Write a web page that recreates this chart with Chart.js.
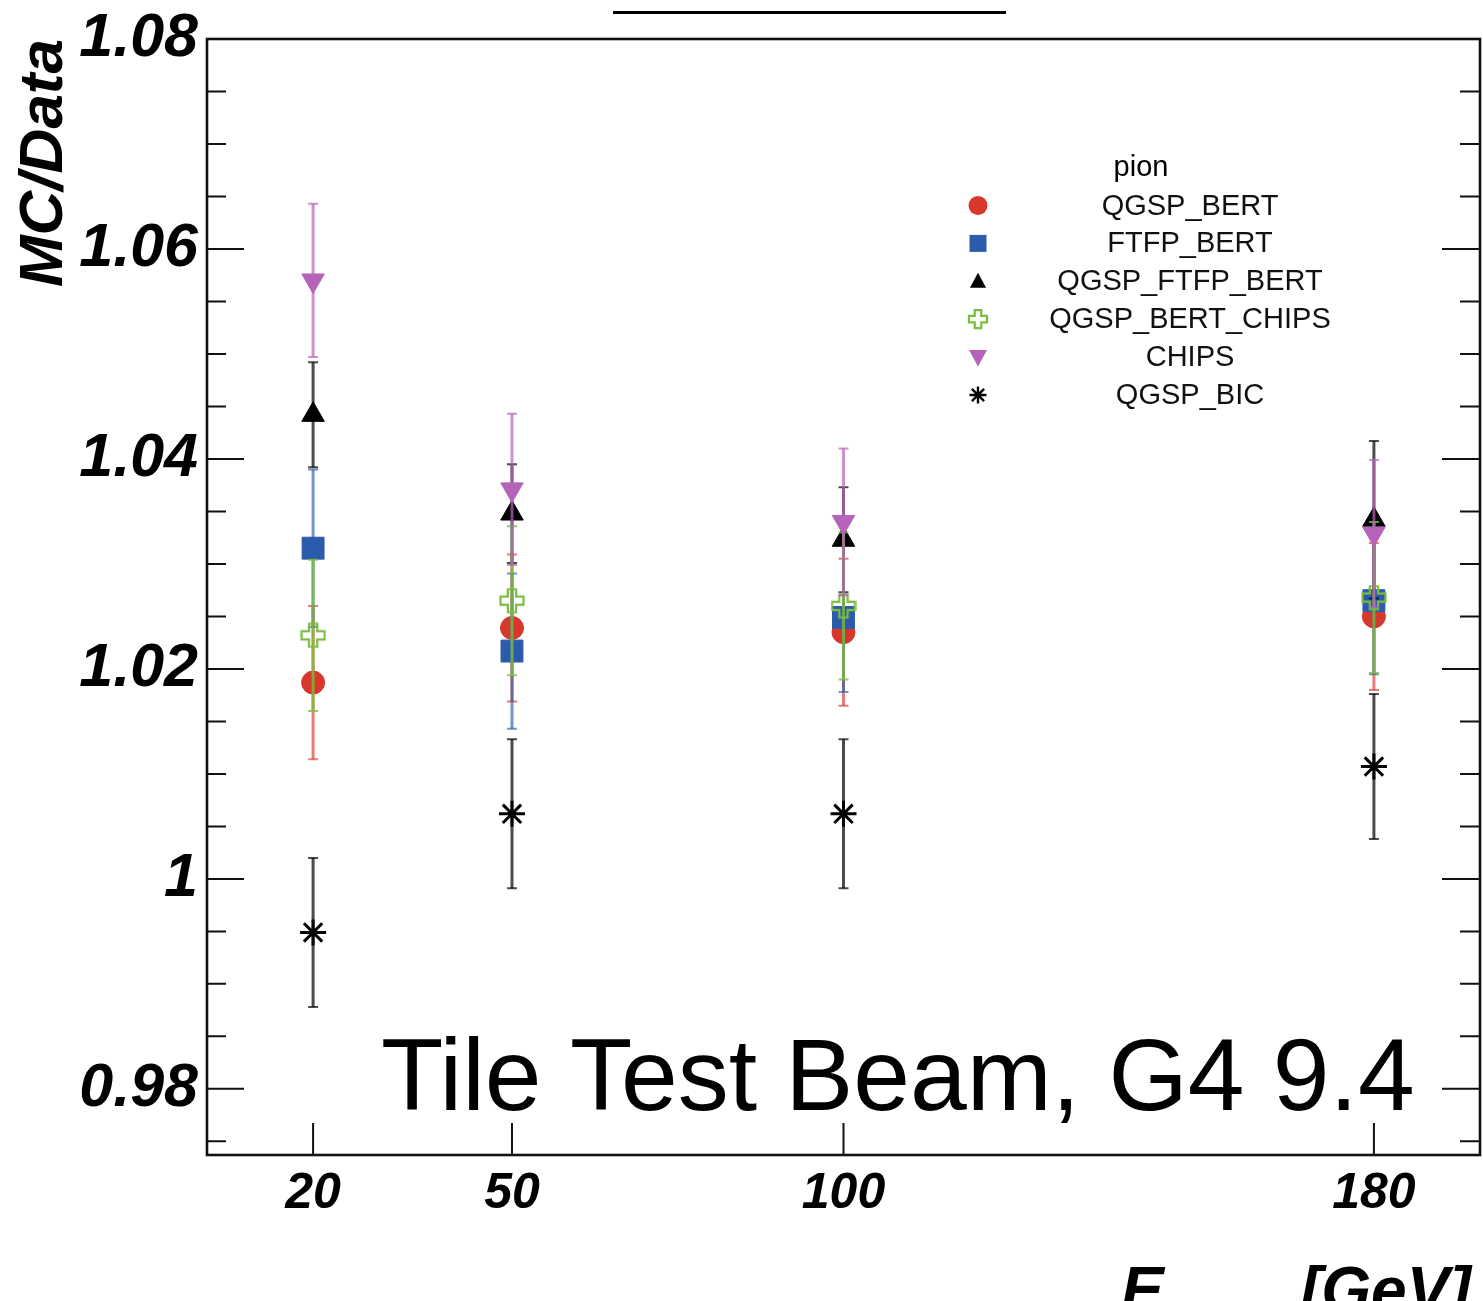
<!DOCTYPE html>
<html>
<head>
<meta charset="utf-8">
<script src="https://cdn.jsdelivr.net/npm/chart.js@4.4.1/dist/chart.umd.min.js"></script>
<style>
  html, body { margin: 0; padding: 0; background: #fff; }
  canvas { display: block; }
</style>
</head>
<body>
<canvas id="chart" width="1483" height="1301"></canvas>
<script>
// beam energies in GeV
const energies = [20, 50, 100, 180];
const xTicks = [20, 50, 100, 180];
const yMajorTicks = [0.98, 1, 1.02, 1.04, 1.06, 1.08];
const yMinorTicks = [0.975, 0.985, 0.99, 0.995, 1.005, 1.01, 1.015, 1.025, 1.03, 1.035,
                     1.045, 1.05, 1.055, 1.065, 1.07, 1.075];

const physicsLists = ['QGSP_BERT', 'FTFP_BERT', 'QGSP_FTFP_BERT', 'QGSP_BERT_CHIPS', 'CHIPS', 'QGSP_BIC'];

// MC/Data ratio and its error, one value per energy
const qgspBert        = [1.0187, 1.0239, 1.0235, 1.0250];
const qgspBertErr     = [0.0073, 0.0070, 0.0070, 0.0070];
const ftfpBert        = [1.0315, 1.0217, 1.0249, 1.0265];
const ftfpBertErr     = [0.0075, 0.0074, 0.0071, 0.0070];
const qgspFtfpBert    = [1.0442, 1.0348, 1.0323, 1.0342];
const qgspFtfpBertErr = [0.0050, 0.0047, 0.0050, 0.0075];
const qgspBertChips   = [1.0232, 1.0265, 1.0260, 1.0268];
const qgspBertChipsErr= [0.0072, 0.0071, 0.0070, 0.0072];
const chips           = [1.0570, 1.0371, 1.0340, 1.0329];
const chipsErr        = [0.0073, 0.0072, 0.0070, 0.0070];
const qgspBic         = [0.9949, 1.0062, 1.0062, 1.0107];
const qgspBicErr      = [0.0071, 0.0071, 0.0071, 0.0069];

const seriesValues = [qgspBert, ftfpBert, qgspFtfpBert, qgspBertChips, chips, qgspBic];
const seriesErrors = [qgspBertErr, ftfpBertErr, qgspFtfpBertErr, qgspBertChipsErr, chipsErr, qgspBicErr];

const seriesColors = ['#d8382c', '#2d5bab', '#000000', '#7bbd40', '#b564b9', '#000000'];
const errorColors  = ['rgba(216,56,44,0.65)', 'rgba(45,91,171,0.65)', 'rgba(0,0,0,0.7)',
                      'rgba(123,189,64,0.8)', 'rgba(181,100,185,0.7)', 'rgba(0,0,0,0.7)'];
const markerShapes = ['circle', 'rect', 'triangle', 'cross', 'triangleDown', 'star'];

const FONT = '"Liberation Sans", Arial, Helvetica, sans-serif';

// draws ROOT-like markers (used for the legend and the open cross)
function drawMarker(ctx, shape, x, y, r, color) {
    ctx.save();
    ctx.fillStyle = color;
    ctx.strokeStyle = color;
    ctx.beginPath();
    if (shape === 'circle') {
        ctx.arc(x, y, r, 0, Math.PI * 2);
        ctx.fill();
    } else if (shape === 'rect') {
        ctx.fillRect(x - r, y - r, 2 * r, 2 * r);
    } else if (shape === 'triangle' || shape === 'triangleDown') {
        const s = shape === 'triangle' ? 1 : -1;
        ctx.moveTo(x, y - s * r);
        ctx.lineTo(x + r * 0.95, y + s * r * 0.75);
        ctx.lineTo(x - r * 0.95, y + s * r * 0.75);
        ctx.closePath();
        ctx.fill();
    } else if (shape === 'cross') {
        const w = r * 0.36;
        ctx.lineWidth = 2.2;
        ctx.moveTo(x - w, y - r); ctx.lineTo(x + w, y - r); ctx.lineTo(x + w, y - w);
        ctx.lineTo(x + r, y - w); ctx.lineTo(x + r, y + w); ctx.lineTo(x + w, y + w);
        ctx.lineTo(x + w, y + r); ctx.lineTo(x - w, y + r); ctx.lineTo(x - w, y + w);
        ctx.lineTo(x - r, y + w); ctx.lineTo(x - r, y - w); ctx.lineTo(x - w, y - w);
        ctx.closePath();
        ctx.stroke();
    } else if (shape === 'star') {
        const d = r * 0.72;
        ctx.lineWidth = 2.4;
        ctx.moveTo(x - r, y); ctx.lineTo(x + r, y);
        ctx.moveTo(x, y - r); ctx.lineTo(x, y + r);
        ctx.moveTo(x - d, y - d); ctx.lineTo(x + d, y + d);
        ctx.moveTo(x - d, y + d); ctx.lineTo(x + d, y - d);
        ctx.stroke();
    }
    ctx.restore();
}

function crossCanvas(size, color) {
    const c = document.createElement('canvas');
    c.width = size; c.height = size;
    drawMarker(c.getContext('2d'), 'cross', size / 2, size / 2, size / 2 - 1.5, color);
    return c;
}

function pointOptions(shape, color) {
    switch (shape) {
        case 'circle': return { pointStyle: 'circle', pointRadius: 11.5 };
        case 'rect': return { pointStyle: 'rect', pointRadius: 15.5 };
        case 'triangle': return { pointStyle: 'triangle', pointRadius: 13 };
        case 'triangleDown': return { pointStyle: 'triangle', pointRadius: 13, pointRotation: 180 };
        case 'star': return { pointStyle: 'star', pointRadius: 13, pointBorderWidth: 3 };
        case 'cross': return { pointStyle: crossCanvas(26, color), pointRadius: 13 };
    }
}

const datasets = physicsLists.map((name, i) => Object.assign({
    label: name,
    data: energies.map((e, j) => ({ x: e, y: seriesValues[i][j] })),
    errors: seriesErrors[i],
    errorColor: errorColors[i],
    marker: markerShapes[i],
    backgroundColor: seriesColors[i],
    borderColor: seriesColors[i],
    pointBorderWidth: 1,
    showLine: false,
    order: physicsLists.length - i
}, pointOptions(markerShapes[i], seriesColors[i])));

// vertical error bars, drawn just before each dataset's markers
const errorBarPlugin = {
    id: 'errorBars',
    beforeDatasetDraw(chart, args) {
        const ds = chart.data.datasets[args.index];
        const { ctx, scales: { x, y } } = chart;
        ctx.save();
        ctx.strokeStyle = ds.errorColor;
        ds.data.forEach((p, i) => {
            const px = x.getPixelForValue(p.x);
            const top = y.getPixelForValue(p.y + ds.errors[i]);
            const bot = y.getPixelForValue(p.y - ds.errors[i]);
            ctx.lineWidth = 3;
            ctx.beginPath();
            ctx.moveTo(px, top); ctx.lineTo(px, bot);
            ctx.stroke();
            ctx.lineWidth = 2;
            ctx.beginPath();
            ctx.moveTo(px - 5, top); ctx.lineTo(px + 5, top);
            ctx.moveTo(px - 5, bot); ctx.lineTo(px + 5, bot);
            ctx.stroke();
        });
        ctx.restore();
    }
};

// ROOT style frame with inward ticks
const framePlugin = {
    id: 'frame',
    beforeDatasetsDraw(chart) {
        const { ctx, chartArea: a, scales: { x, y } } = chart;
        ctx.save();
        ctx.strokeStyle = '#111';
        ctx.lineWidth = 2;
        ctx.beginPath();
        yMajorTicks.forEach(v => {
            const py = y.getPixelForValue(v);
            ctx.moveTo(a.left, py); ctx.lineTo(a.left + 37, py);
            ctx.moveTo(a.right, py); ctx.lineTo(a.right - 38, py);
        });
        yMinorTicks.forEach(v => {
            const py = y.getPixelForValue(v);
            ctx.moveTo(a.left, py); ctx.lineTo(a.left + 19, py);
            ctx.moveTo(a.right, py); ctx.lineTo(a.right - 20, py);
        });
        xTicks.forEach(v => {
            const px = x.getPixelForValue(v);
            ctx.moveTo(px, a.bottom); ctx.lineTo(px, a.bottom - 32);
        });
        ctx.stroke();
        ctx.lineWidth = 2.6;
        ctx.strokeRect(a.left, a.top, a.right - a.left, a.bottom - a.top);
        ctx.restore();
    }
};

// legend, caption and the x axis title
const textPlugin = {
    id: 'texts',
    afterDraw(chart) {
        const { ctx } = chart;
        ctx.save();
        ctx.fillStyle = '#000';

        // cut off heading at the very top
        ctx.fillRect(613, 11, 393, 3);

        // legend
        ctx.font = '29px ' + FONT;
        ctx.textAlign = 'center';
        ctx.textBaseline = 'middle';
        ctx.fillText('pion', 1141, 168);
        const legendR = { circle: 9.5, rect: 8.5, triangle: 8.5, cross: 9, triangleDown: 9.5, star: 8.5 };
        chart.data.datasets.forEach((ds, i) => {
            const ly = 205.5 + i * 37.9;
            drawMarker(ctx, ds.marker, 978, ly, legendR[ds.marker], ds.borderColor);
            ctx.fillStyle = '#111';
            ctx.fillText(ds.label, 1190, ly + 1);
        });

        // caption
        ctx.fillStyle = '#000';
        ctx.textAlign = 'left';
        ctx.textBaseline = 'alphabetic';
        ctx.font = '102px ' + FONT;
        ctx.fillText('Tile Test Beam, G4 9.4', 381, 1110);

        // x axis title E_beam [GeV]
        ctx.font = 'italic bold 64px ' + FONT;
        ctx.fillText('E', 1121, 1312);
        ctx.fillText('[GeV]', 1300, 1312);
        ctx.font = 'italic bold 44px ' + FONT;
        ctx.fillText('beam', 1176, 1334);
        ctx.restore();
    }
};

new Chart(document.getElementById('chart'), {
    type: 'scatter',
    data: { datasets: datasets },
    plugins: [errorBarPlugin, framePlugin, textPlugin],
    options: {
        responsive: false,
        devicePixelRatio: 1,
        animation: false,
        layout: { autoPadding: false, padding: { top: 39, right: 3, left: 0, bottom: 0 } },
        plugins: {
            legend: { display: false },
            tooltip: { enabled: false }
        },
        scales: {
            x: {
                type: 'linear',
                min: 4,
                max: 196,
                afterBuildTicks: s => { s.ticks = xTicks.map(v => ({ value: v })); },
                afterFit: s => { s.height = 146; s.paddingLeft = 0; s.paddingRight = 0; },
                grid: { display: false },
                border: { display: false },
                ticks: {
                    autoSkip: false,
                    maxRotation: 0,
                    padding: 1,
                    color: '#000',
                    font: { family: FONT, size: 50, weight: 'bold', style: 'italic' }
                }
            },
            y: {
                type: 'linear',
                min: 0.9737,
                max: 1.08,
                afterBuildTicks: s => { s.ticks = yMajorTicks.map(v => ({ value: v })); },
                afterFit: s => { s.width = 207; s.paddingTop = 0; s.paddingBottom = 0; },
                grid: { display: false },
                border: { display: false },
                ticks: {
                    autoSkip: false,
                    padding: 1,
                    color: '#000',
                    font: { family: FONT, size: 61, weight: 'bold', style: 'italic' },
                    callback: v => String(v)
                },
                title: {
                    display: true,
                    text: 'MC/Data',
                    align: 'end',
                    color: '#000',
                    padding: { top: 8, bottom: 0 },
                    font: { family: FONT, size: 62, weight: 'bold', style: 'italic' }
                }
            }
        }
    }
});
</script>
</body>
</html>
